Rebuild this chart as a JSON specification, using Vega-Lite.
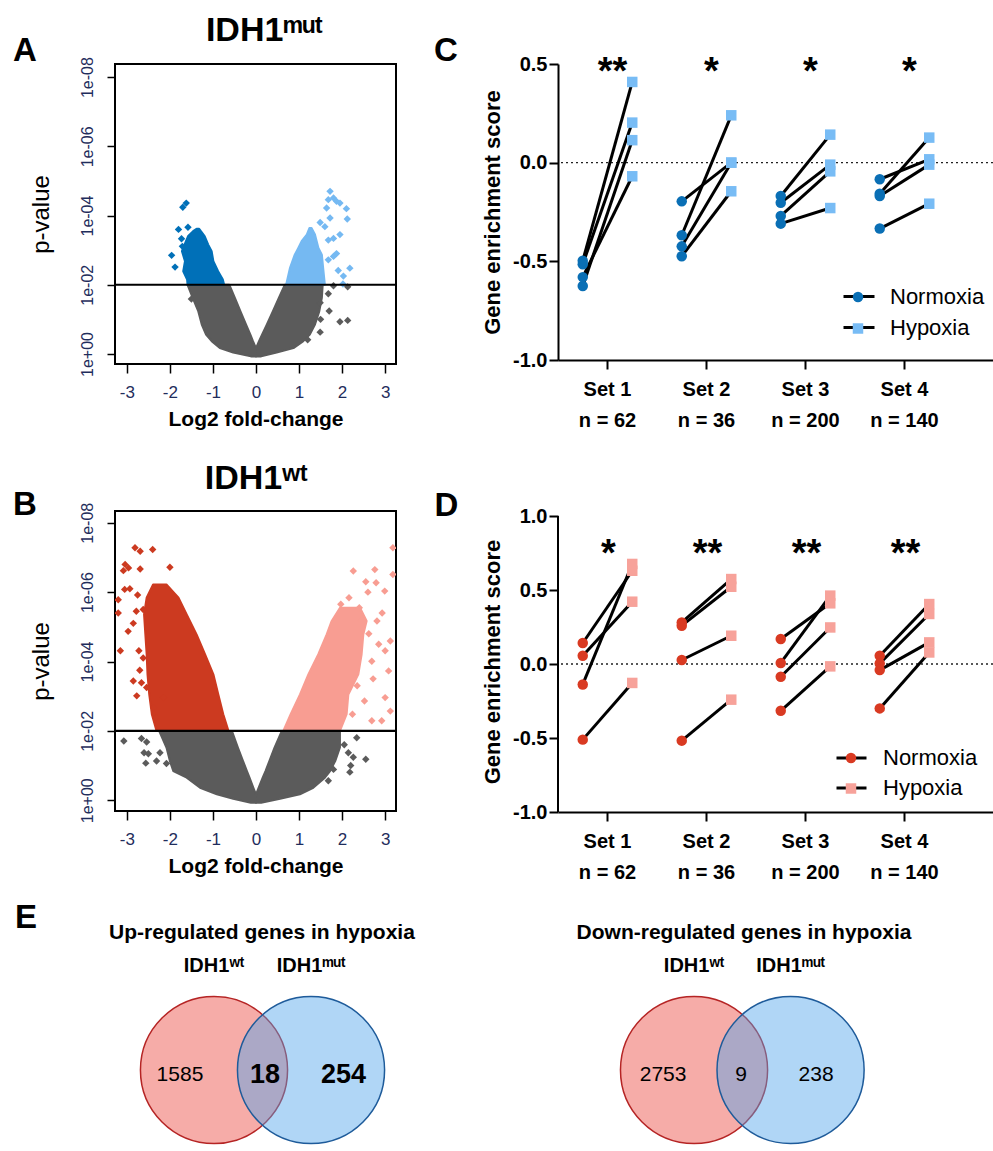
{
"$schema": "https://vega.github.io/schema/vega-lite/v6.json",
"background": "white",
"padding": {"left": 12, "top": 12, "right": 0, "bottom": 0},
"config": {"font": "Liberation Sans", "view": {"stroke": null}, "axis": {"grid": false}, "text": {"font": "Liberation Sans", "color": "black"}},
"datasets": {
"volcano_area": [
{"panel":"A","group":"ns","side":"L","nlp":-0.07,"lo":-0.12,"hi":0},
{"panel":"A","group":"ns","side":"L","nlp":0.04,"lo":-0.53,"hi":0},
{"panel":"A","group":"ns","side":"L","nlp":0.17,"lo":-0.84,"hi":0},
{"panel":"A","group":"ns","side":"L","nlp":0.37,"lo":-1.03,"hi":-0.07},
{"panel":"A","group":"ns","side":"L","nlp":0.56,"lo":-1.16,"hi":-0.13},
{"panel":"A","group":"ns","side":"L","nlp":0.85,"lo":-1.26,"hi":-0.23},
{"panel":"A","group":"ns","side":"L","nlp":1.23,"lo":-1.34,"hi":-0.36},
{"panel":"A","group":"ns","side":"L","nlp":1.62,"lo":-1.47,"hi":-0.49},
{"panel":"A","group":"ns","side":"L","nlp":2.0,"lo":-1.59,"hi":-0.62},
{"panel":"A","group":"ns","side":"R","nlp":-0.07,"lo":0,"hi":0.12},
{"panel":"A","group":"ns","side":"R","nlp":0.04,"lo":0,"hi":0.48},
{"panel":"A","group":"ns","side":"R","nlp":0.17,"lo":0,"hi":0.87},
{"panel":"A","group":"ns","side":"R","nlp":0.37,"lo":0.07,"hi":1.10},
{"panel":"A","group":"ns","side":"R","nlp":0.56,"lo":0.14,"hi":1.25},
{"panel":"A","group":"ns","side":"R","nlp":0.85,"lo":0.25,"hi":1.37},
{"panel":"A","group":"ns","side":"R","nlp":1.23,"lo":0.39,"hi":1.47},
{"panel":"A","group":"ns","side":"R","nlp":1.62,"lo":0.53,"hi":1.53},
{"panel":"A","group":"ns","side":"R","nlp":2.0,"lo":0.67,"hi":1.55},
{"panel":"A","group":"down","side":"L","nlp":2.0,"lo":-1.59,"hi":-0.74},
{"panel":"A","group":"down","side":"L","nlp":2.15,"lo":-1.60,"hi":-0.77},
{"panel":"A","group":"down","side":"L","nlp":2.39,"lo":-1.69,"hi":-0.88},
{"panel":"A","group":"down","side":"L","nlp":2.68,"lo":-1.65,"hi":-0.99},
{"panel":"A","group":"down","side":"L","nlp":2.97,"lo":-1.72,"hi":-1.03},
{"panel":"A","group":"down","side":"L","nlp":3.16,"lo":-1.66,"hi":-1.11},
{"panel":"A","group":"down","side":"L","nlp":3.40,"lo":-1.58,"hi":-1.19},
{"panel":"A","group":"down","side":"L","nlp":3.55,"lo":-1.46,"hi":-1.28},
{"panel":"A","group":"down","side":"L","nlp":3.62,"lo":-1.38,"hi":-1.32},
{"panel":"A","group":"up","side":"R","nlp":2.0,"lo":0.70,"hi":1.60},
{"panel":"A","group":"up","side":"R","nlp":2.49,"lo":0.79,"hi":1.56},
{"panel":"A","group":"up","side":"R","nlp":2.87,"lo":0.90,"hi":1.53},
{"panel":"A","group":"up","side":"R","nlp":3.06,"lo":0.98,"hi":1.45},
{"panel":"A","group":"up","side":"R","nlp":3.26,"lo":1.06,"hi":1.41},
{"panel":"A","group":"up","side":"R","nlp":3.45,"lo":1.18,"hi":1.37},
{"panel":"A","group":"up","side":"R","nlp":3.64,"lo":1.24,"hi":1.29},
{"panel":"B","group":"ns","side":"L","nlp":-0.07,"lo":-0.12,"hi":0},
{"panel":"B","group":"ns","side":"L","nlp":0.04,"lo":-0.53,"hi":0},
{"panel":"B","group":"ns","side":"L","nlp":0.17,"lo":-0.91,"hi":0},
{"panel":"B","group":"ns","side":"L","nlp":0.36,"lo":-1.30,"hi":-0.06},
{"panel":"B","group":"ns","side":"L","nlp":0.65,"lo":-1.61,"hi":-0.15},
{"panel":"B","group":"ns","side":"L","nlp":0.84,"lo":-1.92,"hi":-0.21},
{"panel":"B","group":"ns","side":"L","nlp":1.13,"lo":-2.00,"hi":-0.30},
{"panel":"B","group":"ns","side":"L","nlp":1.52,"lo":-2.08,"hi":-0.42},
{"panel":"B","group":"ns","side":"L","nlp":2.0,"lo":-2.25,"hi":-0.56},
{"panel":"B","group":"ns","side":"R","nlp":-0.07,"lo":0,"hi":0.12},
{"panel":"B","group":"ns","side":"R","nlp":0.04,"lo":0,"hi":0.56},
{"panel":"B","group":"ns","side":"R","nlp":0.17,"lo":0,"hi":1.02},
{"panel":"B","group":"ns","side":"R","nlp":0.36,"lo":0.06,"hi":1.33},
{"panel":"B","group":"ns","side":"R","nlp":0.65,"lo":0.155,"hi":1.60},
{"panel":"B","group":"ns","side":"R","nlp":0.84,"lo":0.22,"hi":1.72},
{"panel":"B","group":"ns","side":"R","nlp":1.13,"lo":0.31,"hi":1.84},
{"panel":"B","group":"ns","side":"R","nlp":1.52,"lo":0.43,"hi":1.95},
{"panel":"B","group":"ns","side":"R","nlp":2.0,"lo":0.60,"hi":1.95},
{"panel":"B","group":"down","side":"L","nlp":2.0,"lo":-2.31,"hi":-0.64},
{"panel":"B","group":"down","side":"L","nlp":2.48,"lo":-2.42,"hi":-0.76},
{"panel":"B","group":"down","side":"L","nlp":3.05,"lo":-2.48,"hi":-0.875},
{"panel":"B","group":"down","side":"L","nlp":3.63,"lo":-2.52,"hi":-0.99},
{"panel":"B","group":"down","side":"L","nlp":4.21,"lo":-2.54,"hi":-1.185},
{"panel":"B","group":"down","side":"L","nlp":4.78,"lo":-2.57,"hi":-1.38},
{"panel":"B","group":"down","side":"L","nlp":5.36,"lo":-2.60,"hi":-1.61},
{"panel":"B","group":"down","side":"L","nlp":5.84,"lo":-2.54,"hi":-1.80},
{"panel":"B","group":"down","side":"L","nlp":6.22,"lo":-2.39,"hi":-2.08},
{"panel":"B","group":"up","side":"R","nlp":2.0,"lo":0.635,"hi":1.95},
{"panel":"B","group":"up","side":"R","nlp":2.48,"lo":0.805,"hi":2.106},
{"panel":"B","group":"up","side":"R","nlp":3.05,"lo":1.022,"hi":2.145},
{"panel":"B","group":"up","side":"R","nlp":3.63,"lo":1.216,"hi":2.377},
{"panel":"B","group":"up","side":"R","nlp":4.21,"lo":1.448,"hi":2.454},
{"panel":"B","group":"up","side":"R","nlp":4.78,"lo":1.642,"hi":2.493},
{"panel":"B","group":"up","side":"R","nlp":5.17,"lo":1.758,"hi":2.57},
{"panel":"B","group":"up","side":"R","nlp":5.55,"lo":1.951,"hi":2.416}
],
"volcano_pts": [
{"panel":"A","group":"down","lfc":-1.70,"nlp":4.24},
{"panel":"A","group":"down","lfc":-1.62,"nlp":4.36},
{"panel":"A","group":"down","lfc":-1.80,"nlp":3.60},
{"panel":"A","group":"down","lfc":-1.58,"nlp":3.66},
{"panel":"A","group":"down","lfc":-1.96,"nlp":2.85},
{"panel":"A","group":"down","lfc":-1.88,"nlp":2.51},
{"panel":"A","group":"down","lfc":-1.73,"nlp":3.33},
{"panel":"A","group":"down","lfc":-1.71,"nlp":3.11},
{"panel":"A","group":"up","lfc":1.72,"nlp":4.70},
{"panel":"A","group":"up","lfc":1.68,"nlp":4.46},
{"panel":"A","group":"up","lfc":1.80,"nlp":4.51},
{"panel":"A","group":"up","lfc":1.87,"nlp":4.41},
{"panel":"A","group":"up","lfc":1.95,"nlp":4.36},
{"panel":"A","group":"up","lfc":1.64,"nlp":4.22},
{"panel":"A","group":"up","lfc":2.10,"nlp":4.20},
{"panel":"A","group":"up","lfc":1.72,"nlp":3.93},
{"panel":"A","group":"up","lfc":2.12,"nlp":3.90},
{"panel":"A","group":"up","lfc":1.49,"nlp":3.80},
{"panel":"A","group":"up","lfc":1.60,"nlp":3.68},
{"panel":"A","group":"up","lfc":1.95,"nlp":3.45},
{"panel":"A","group":"up","lfc":1.80,"nlp":3.34},
{"panel":"A","group":"up","lfc":1.68,"nlp":3.29},
{"panel":"A","group":"up","lfc":1.87,"nlp":2.90},
{"panel":"A","group":"up","lfc":1.80,"nlp":2.82},
{"panel":"A","group":"up","lfc":1.68,"nlp":2.72},
{"panel":"A","group":"up","lfc":2.18,"nlp":2.48},
{"panel":"A","group":"up","lfc":1.91,"nlp":2.41},
{"panel":"A","group":"up","lfc":2.03,"nlp":2.25},
{"panel":"A","group":"up","lfc":2.02,"nlp":2.02},
{"panel":"A","group":"ns","lfc":-1.50,"nlp":1.59},
{"panel":"A","group":"ns","lfc":1.68,"nlp":1.74},
{"panel":"A","group":"ns","lfc":1.80,"nlp":1.97},
{"panel":"A","group":"ns","lfc":2.13,"nlp":1.94},
{"panel":"A","group":"ns","lfc":1.49,"nlp":1.48},
{"panel":"A","group":"ns","lfc":1.70,"nlp":1.24},
{"panel":"A","group":"ns","lfc":1.50,"nlp":1.00},
{"panel":"A","group":"ns","lfc":1.95,"nlp":0.93},
{"panel":"A","group":"ns","lfc":2.13,"nlp":0.97},
{"panel":"A","group":"ns","lfc":1.49,"nlp":0.63},
{"panel":"A","group":"ns","lfc":1.20,"nlp":0.41},
{"panel":"B","group":"down","lfc":-2.81,"nlp":7.28},
{"panel":"B","group":"down","lfc":-2.69,"nlp":7.18},
{"panel":"B","group":"down","lfc":-2.40,"nlp":7.23},
{"panel":"B","group":"down","lfc":-2.00,"nlp":6.72},
{"panel":"B","group":"down","lfc":-3.04,"nlp":6.80},
{"panel":"B","group":"down","lfc":-2.96,"nlp":6.70},
{"panel":"B","group":"down","lfc":-3.08,"nlp":6.62},
{"panel":"B","group":"down","lfc":-2.69,"nlp":6.67},
{"panel":"B","group":"down","lfc":-3.20,"nlp":5.78},
{"panel":"B","group":"down","lfc":-3.20,"nlp":5.40},
{"panel":"B","group":"down","lfc":-2.93,"nlp":6.10},
{"panel":"B","group":"down","lfc":-3.05,"nlp":6.08},
{"panel":"B","group":"down","lfc":-2.75,"nlp":5.92},
{"panel":"B","group":"down","lfc":-2.78,"nlp":5.45},
{"panel":"B","group":"down","lfc":-2.62,"nlp":5.50},
{"panel":"B","group":"down","lfc":-2.97,"nlp":4.87},
{"panel":"B","group":"down","lfc":-3.15,"nlp":4.31},
{"panel":"B","group":"down","lfc":-2.72,"nlp":4.31},
{"panel":"B","group":"down","lfc":-2.62,"nlp":4.10},
{"panel":"B","group":"down","lfc":-2.85,"nlp":3.44},
{"panel":"B","group":"down","lfc":-2.66,"nlp":3.39},
{"panel":"B","group":"down","lfc":-2.54,"nlp":3.25},
{"panel":"B","group":"down","lfc":-2.77,"nlp":3.01},
{"panel":"B","group":"down","lfc":-2.38,"nlp":2.67},
{"panel":"B","group":"down","lfc":-2.32,"nlp":2.38},
{"panel":"B","group":"down","lfc":-2.15,"nlp":2.96},
{"panel":"B","group":"down","lfc":-2.85,"nlp":5.10},
{"panel":"B","group":"down","lfc":-2.70,"nlp":3.75},
{"panel":"B","group":"up","lfc":2.26,"nlp":6.61},
{"panel":"B","group":"up","lfc":2.76,"nlp":6.65},
{"panel":"B","group":"up","lfc":2.79,"nlp":6.27},
{"panel":"B","group":"up","lfc":2.99,"nlp":6.03},
{"panel":"B","group":"up","lfc":3.18,"nlp":7.28},
{"panel":"B","group":"up","lfc":3.18,"nlp":6.51},
{"panel":"B","group":"up","lfc":1.97,"nlp":5.65},
{"panel":"B","group":"up","lfc":2.16,"nlp":5.84},
{"panel":"B","group":"up","lfc":2.40,"nlp":5.55},
{"panel":"B","group":"up","lfc":2.93,"nlp":5.40},
{"panel":"B","group":"up","lfc":2.81,"nlp":5.17},
{"panel":"B","group":"up","lfc":3.00,"nlp":4.31},
{"panel":"B","group":"up","lfc":3.12,"nlp":4.59},
{"panel":"B","group":"up","lfc":2.69,"nlp":4.01},
{"panel":"B","group":"up","lfc":3.08,"nlp":3.73},
{"panel":"B","group":"up","lfc":2.52,"nlp":2.86},
{"panel":"B","group":"up","lfc":3.00,"nlp":2.96},
{"panel":"B","group":"up","lfc":3.12,"nlp":2.57},
{"panel":"B","group":"up","lfc":2.69,"nlp":2.29},
{"panel":"B","group":"up","lfc":2.92,"nlp":2.29},
{"panel":"B","group":"up","lfc":2.24,"nlp":2.48},
{"panel":"B","group":"up","lfc":2.62,"nlp":4.80},
{"panel":"B","group":"up","lfc":2.85,"nlp":4.50},
{"panel":"B","group":"up","lfc":2.35,"nlp":3.30},
{"panel":"B","group":"up","lfc":2.72,"nlp":3.50},
{"panel":"B","group":"up","lfc":2.55,"nlp":6.30},
{"panel":"B","group":"up","lfc":2.45,"nlp":5.20},
{"panel":"B","group":"up","lfc":2.60,"nlp":6.00},
{"panel":"B","group":"ns","lfc":-3.07,"nlp":1.71},
{"panel":"B","group":"ns","lfc":-2.66,"nlp":1.78},
{"panel":"B","group":"ns","lfc":-2.54,"nlp":1.68},
{"panel":"B","group":"ns","lfc":-2.60,"nlp":1.37},
{"panel":"B","group":"ns","lfc":-2.50,"nlp":1.34},
{"panel":"B","group":"ns","lfc":-2.23,"nlp":1.37},
{"panel":"B","group":"ns","lfc":-2.56,"nlp":1.07},
{"panel":"B","group":"ns","lfc":-2.31,"nlp":1.13},
{"panel":"B","group":"ns","lfc":-2.08,"nlp":1.06},
{"panel":"B","group":"ns","lfc":2.34,"nlp":1.80},
{"panel":"B","group":"ns","lfc":2.145,"nlp":1.37},
{"panel":"B","group":"ns","lfc":2.26,"nlp":1.24},
{"panel":"B","group":"ns","lfc":2.55,"nlp":1.18},
{"panel":"B","group":"ns","lfc":2.18,"nlp":0.81},
{"panel":"B","group":"ns","lfc":1.80,"nlp":0.89},
{"panel":"B","group":"ns","lfc":1.68,"nlp":0.56},
{"panel":"B","group":"ns","lfc":2.05,"nlp":1.60},
{"panel":"B","group":"ns","lfc":2.20,"nlp":1.00}
],
"enrich": [
{"panel":"C","set":"Set 1, n = 62","pair":"C1","condition":"Normoxia","score":-0.497},
{"panel":"C","set":"Set 1, n = 62","pair":"C1","condition":"Hypoxia","score":0.409},
{"panel":"C","set":"Set 1, n = 62","pair":"C2","condition":"Normoxia","score":-0.515},
{"panel":"C","set":"Set 1, n = 62","pair":"C2","condition":"Hypoxia","score":0.203},
{"panel":"C","set":"Set 1, n = 62","pair":"C3","condition":"Normoxia","score":-0.625},
{"panel":"C","set":"Set 1, n = 62","pair":"C3","condition":"Hypoxia","score":0.114},
{"panel":"C","set":"Set 1, n = 62","pair":"C4","condition":"Normoxia","score":-0.580},
{"panel":"C","set":"Set 1, n = 62","pair":"C4","condition":"Hypoxia","score":-0.069},
{"panel":"C","set":"Set 2, n = 36","pair":"C5","condition":"Normoxia","score":-0.196},
{"panel":"C","set":"Set 2, n = 36","pair":"C5","condition":"Hypoxia","score":0.0},
{"panel":"C","set":"Set 2, n = 36","pair":"C6","condition":"Normoxia","score":-0.368},
{"panel":"C","set":"Set 2, n = 36","pair":"C6","condition":"Hypoxia","score":0.240},
{"panel":"C","set":"Set 2, n = 36","pair":"C7","condition":"Normoxia","score":-0.424},
{"panel":"C","set":"Set 2, n = 36","pair":"C7","condition":"Hypoxia","score":0.0},
{"panel":"C","set":"Set 2, n = 36","pair":"C8","condition":"Normoxia","score":-0.474},
{"panel":"C","set":"Set 2, n = 36","pair":"C8","condition":"Hypoxia","score":-0.145},
{"panel":"C","set":"Set 3, n = 200","pair":"C9","condition":"Normoxia","score":-0.169},
{"panel":"C","set":"Set 3, n = 200","pair":"C9","condition":"Hypoxia","score":0.142},
{"panel":"C","set":"Set 3, n = 200","pair":"C10","condition":"Normoxia","score":-0.203},
{"panel":"C","set":"Set 3, n = 200","pair":"C10","condition":"Hypoxia","score":-0.010},
{"panel":"C","set":"Set 3, n = 200","pair":"C11","condition":"Normoxia","score":-0.270},
{"panel":"C","set":"Set 3, n = 200","pair":"C11","condition":"Hypoxia","score":-0.044},
{"panel":"C","set":"Set 3, n = 200","pair":"C12","condition":"Normoxia","score":-0.309},
{"panel":"C","set":"Set 3, n = 200","pair":"C12","condition":"Hypoxia","score":-0.230},
{"panel":"C","set":"Set 4, n = 140","pair":"C13","condition":"Normoxia","score":-0.084},
{"panel":"C","set":"Set 4, n = 140","pair":"C13","condition":"Hypoxia","score":0.017},
{"panel":"C","set":"Set 4, n = 140","pair":"C14","condition":"Normoxia","score":-0.157},
{"panel":"C","set":"Set 4, n = 140","pair":"C14","condition":"Hypoxia","score":0.127},
{"panel":"C","set":"Set 4, n = 140","pair":"C15","condition":"Normoxia","score":-0.169},
{"panel":"C","set":"Set 4, n = 140","pair":"C15","condition":"Hypoxia","score":-0.010},
{"panel":"C","set":"Set 4, n = 140","pair":"C16","condition":"Normoxia","score":-0.334},
{"panel":"C","set":"Set 4, n = 140","pair":"C16","condition":"Hypoxia","score":-0.208},
{"panel":"D","set":"Set 1, n = 62","pair":"D1","condition":"Normoxia","score":0.142},
{"panel":"D","set":"Set 1, n = 62","pair":"D1","condition":"Hypoxia","score":0.630},
{"panel":"D","set":"Set 1, n = 62","pair":"D2","condition":"Normoxia","score":0.056},
{"panel":"D","set":"Set 1, n = 62","pair":"D2","condition":"Hypoxia","score":0.421},
{"panel":"D","set":"Set 1, n = 62","pair":"D3","condition":"Normoxia","score":-0.138},
{"panel":"D","set":"Set 1, n = 62","pair":"D3","condition":"Hypoxia","score":0.676},
{"panel":"D","set":"Set 1, n = 62","pair":"D4","condition":"Normoxia","score":-0.511},
{"panel":"D","set":"Set 1, n = 62","pair":"D4","condition":"Hypoxia","score":-0.128},
{"panel":"D","set":"Set 2, n = 36","pair":"D5","condition":"Normoxia","score":0.281},
{"panel":"D","set":"Set 2, n = 36","pair":"D5","condition":"Hypoxia","score":0.574},
{"panel":"D","set":"Set 2, n = 36","pair":"D6","condition":"Normoxia","score":0.259},
{"panel":"D","set":"Set 2, n = 36","pair":"D6","condition":"Hypoxia","score":0.522},
{"panel":"D","set":"Set 2, n = 36","pair":"D7","condition":"Normoxia","score":0.027},
{"panel":"D","set":"Set 2, n = 36","pair":"D7","condition":"Hypoxia","score":0.191},
{"panel":"D","set":"Set 2, n = 36","pair":"D8","condition":"Normoxia","score":-0.518},
{"panel":"D","set":"Set 2, n = 36","pair":"D8","condition":"Hypoxia","score":-0.241},
{"panel":"D","set":"Set 3, n = 200","pair":"D9","condition":"Normoxia","score":0.169},
{"panel":"D","set":"Set 3, n = 200","pair":"D9","condition":"Hypoxia","score":0.410},
{"panel":"D","set":"Set 3, n = 200","pair":"D10","condition":"Normoxia","score":0.007},
{"panel":"D","set":"Set 3, n = 200","pair":"D10","condition":"Hypoxia","score":0.462},
{"panel":"D","set":"Set 3, n = 200","pair":"D11","condition":"Normoxia","score":-0.086},
{"panel":"D","set":"Set 3, n = 200","pair":"D11","condition":"Hypoxia","score":0.247},
{"panel":"D","set":"Set 3, n = 200","pair":"D12","condition":"Normoxia","score":-0.316},
{"panel":"D","set":"Set 3, n = 200","pair":"D12","condition":"Hypoxia","score":-0.016},
{"panel":"D","set":"Set 4, n = 140","pair":"D13","condition":"Normoxia","score":0.056},
{"panel":"D","set":"Set 4, n = 140","pair":"D13","condition":"Hypoxia","score":0.405},
{"panel":"D","set":"Set 4, n = 140","pair":"D14","condition":"Normoxia","score":0.004},
{"panel":"D","set":"Set 4, n = 140","pair":"D14","condition":"Hypoxia","score":0.338},
{"panel":"D","set":"Set 4, n = 140","pair":"D15","condition":"Normoxia","score":-0.041},
{"panel":"D","set":"Set 4, n = 140","pair":"D15","condition":"Hypoxia","score":0.146},
{"panel":"D","set":"Set 4, n = 140","pair":"D16","condition":"Normoxia","score":-0.300},
{"panel":"D","set":"Set 4, n = 140","pair":"D16","condition":"Hypoxia","score":0.078}
],
"sig": [
{"panel":"C","set":"Set 1, n = 62","sig":"**"},
{"panel":"C","set":"Set 2, n = 36","sig":"*"},
{"panel":"C","set":"Set 3, n = 200","sig":"*"},
{"panel":"C","set":"Set 4, n = 140","sig":"*"},
{"panel":"D","set":"Set 1, n = 62","sig":"*"},
{"panel":"D","set":"Set 2, n = 36","sig":"**"},
{"panel":"D","set":"Set 3, n = 200","sig":"**"},
{"panel":"D","set":"Set 4, n = 140","sig":"**"}
],
"venn_sets": [
{"venn":"up","set":"IDH1ʷᵗ","cx":0},
{"venn":"up","set":"IDH1ᵐᵘᵗ","cx":1.169},
{"venn":"down","set":"IDH1ʷᵗ","cx":0},
{"venn":"down","set":"IDH1ᵐᵘᵗ","cx":1.163}
],
"venn_counts": [
{"venn":"up","region":"IDH1wt only","count":1585,"cx":-0.41},
{"venn":"up","region":"both","count":18,"cx":0.614},
{"venn":"up","region":"IDH1mut only","count":254,"cx":1.56},
{"venn":"down","region":"IDH1wt only","count":2753,"cx":-0.373},
{"venn":"down","region":"both","count":9,"cx":0.566},
{"venn":"down","region":"IDH1mut only","count":238,"cx":1.47}
]
},
"columns": 2,
"spacing": {"row": 147, "column": 162},
"bounds": "flush",
"align": "each",
"resolve": {
 "scale": {"color": "independent", "fill": "independent", "stroke": "independent", "shape": "independent", "strokeDash": "independent", "xOffset": "independent"},
 "legend": {"color": "independent", "fill": "independent", "stroke": "independent", "shape": "independent", "strokeDash": "independent"}
},
"concat": [
{
"width": 281, "height": 300,
"view": {"stroke": "black", "strokeWidth": 2},
"layer": [
{"data": {"name": "volcano_area"}, "transform": [{"filter": "datum.panel == 'A'"}],
 "mark": {"type": "area", "orient": "horizontal", "clip": true, "strokeWidth": 2, "strokeJoin": "round", "opacity": 1},
 "encoding": {
  "y": {"field": "nlp", "type": "quantitative", "scale": {"domain": [-0.29, 8.38], "nice": false, "zero": false},
        "axis": {"title": "p-value", "titleFontSize": 24, "titleFontWeight": "normal", "titleColor": "black", "titlePadding": 26, "values": [0, 2, 4, 6, 8], "labelExpr": "datum.value == 0 ? '1e+00' : '1e-0' + datum.value", "labelAngle": 270, "labelAlign": "center", "labelBaseline": "bottom", "labelFontSize": 16, "labelColor": "#1f2d5c", "labelPadding": 12, "labelFlush": false, "labelOverlap": false, "tickSize": 8, "tickWidth": 1.5, "tickColor": "black", "domain": false}},
  "x": {"field": "lo", "type": "quantitative", "stack": null, "scale": {"domain": [-3.275, 3.252], "nice": false, "zero": false},
        "axis": {"title": "Log2 fold-change", "titleFontSize": 21, "titleFontWeight": "bold", "titleColor": "black", "titlePadding": 8, "values": [-3, -2, -1, 0, 1, 2, 3], "labelExpr": "replace(format(datum.value, 'd'), '\u2212', '-')", "labelFontSize": 17, "labelColor": "#1f2d5c", "labelPadding": 11, "labelFlush": false, "labelOverlap": false, "tickSize": 9, "tickWidth": 1.5, "tickColor": "black", "domain": false}},
  "x2": {"field": "hi"},
  "detail": {"field": "side", "type": "nominal"},
  "color": {"field": "group", "type": "nominal", "scale": {"domain": ["ns", "down", "up"], "range": ["#5b5b5b", "#0070b8", "#75b9f2"]}, "legend": null},
  "stroke": {"field": "group", "type": "nominal", "scale": {"domain": ["ns", "down", "up"], "range": ["#5b5b5b", "#0070b8", "#75b9f2"]}, "legend": null}
 }},
{"data": {"name": "volcano_pts"}, "transform": [{"filter": "datum.panel == 'A'"}],
 "mark": {"type": "point", "shape": "diamond", "filled": true, "opacity": 1, "size": 55, "clip": true},
 "encoding": {"x": {"field": "lfc", "type": "quantitative"}, "y": {"field": "nlp", "type": "quantitative"}, "color": {"field": "group", "type": "nominal", "legend": null}}},
{"data": {"values": [{}]}, "mark": {"type": "rule", "color": "black", "strokeWidth": 2.2}, "encoding": {"y": {"datum": 2, "type": "quantitative"}}},
{"data": {"values": [{}]}, "mark": {"type": "text", "text": "A", "fontSize": 33, "fontWeight": "bold", "align": "center", "baseline": "alphabetic"}, "encoding": {"x": {"datum": -5.366, "type": "quantitative"}, "y": {"datum": 8.48, "type": "quantitative"}}},
{"data": {"values": [{}]}, "mark": {"type": "text", "text": "IDH1ᵐᵘᵗ", "fontSize": 34, "fontWeight": "bold", "align": "center", "baseline": "alphabetic"}, "encoding": {"x": {"datum": 0.19, "type": "quantitative"}, "y": {"datum": 9.056, "type": "quantitative"}}}
]
},
{
"width": 435, "height": 296,
"layer": [
{"layer": [
 {"data": {"values": [{}]}, "mark": {"type": "rule", "strokeDash": [2, 3], "strokeWidth": 1.3, "color": "#222222"}, "encoding": {"y": {"datum": 0, "type": "quantitative"}}},
 {"data": {"name": "enrich"}, "transform": [{"filter": "datum.panel == 'C'"}],
  "mark": {"type": "line", "color": "black", "strokeWidth": 3},
  "encoding": {
   "x": {"field": "set", "type": "nominal", "scale": {"type": "band", "paddingInner": 0, "paddingOuter": 0.197, "align": 0},
         "axis": {"title": null, "labelExpr": "split(datum.value, ', ')", "labelFontSize": 20, "labelFontWeight": "bold", "labelColor": "black", "labelLineHeight": 31.6, "labelPadding": 10, "labelAngle": 0, "labelBaseline": "top", "tickSize": 9, "tickWidth": 2, "tickColor": "black", "domainColor": "black", "domainWidth": 2, "bandPosition": 0.5}},
   "xOffset": {"field": "condition", "type": "nominal", "scale": {"type": "point", "domain": ["Normoxia", "Hypoxia"], "padding": 0.5}},
   "y": {"field": "score", "type": "quantitative", "scale": {"domain": [-1, 0.5], "nice": false, "zero": false},
         "axis": {"title": "Gene enrichment score", "titleFontSize": 22, "titleFontWeight": "bold", "titleColor": "black", "titlePadding": 8, "values": [-1, -0.5, 0, 0.5], "labelExpr": "replace(format(datum.value, '.1f'), '\u2212', '-')", "labelFontSize": 20, "labelFontWeight": "bold", "labelColor": "black", "labelPadding": 2, "labelFlush": false, "tickSize": 9, "tickWidth": 2, "tickColor": "black", "domainColor": "black", "domainWidth": 2}},
   "detail": {"field": "pair", "type": "nominal"}
  }},
 {"data": {"name": "enrich"}, "transform": [{"filter": "datum.panel == 'C'"}],
  "mark": {"type": "point", "opacity": 0, "color": "black"},
  "encoding": {
   "x": {"field": "set", "type": "nominal"},
   "xOffset": {"field": "condition", "type": "nominal"},
   "y": {"field": "score", "type": "quantitative"},
   "strokeDash": {"field": "condition", "type": "nominal", "sort": "descending", "scale": {"range": [[1, 0], [1, 0]]},
                  "legend": {"title": null, "orient": "none", "legendX": 284, "legendY": 215.5, "padding": 0, "symbolType": "stroke", "symbolSize": 961, "symbolStrokeWidth": 3, "symbolStrokeColor": "black", "symbolOpacity": 1, "labelFontSize": 22, "labelColor": "black", "labelFont": "Liberation Sans", "labelOffset": 14, "rowPadding": 3, "zindex": 1}}
  }},
 {"data": {"name": "enrich"}, "transform": [{"filter": "datum.panel == 'C'"}],
  "mark": {"type": "point", "filled": true, "opacity": 1, "size": 110},
  "encoding": {
   "x": {"field": "set", "type": "nominal"},
   "xOffset": {"field": "condition", "type": "nominal"},
   "y": {"field": "score", "type": "quantitative"},
   "color": {"field": "condition", "type": "nominal", "scale": {"domain": ["Normoxia", "Hypoxia"], "range": ["#0a6fb5", "#78bcf5"]},
             "legend": {"title": null, "orient": "none", "legendX": 294.5, "legendY": 227.5, "padding": 0, "labelFontSize": 9, "labelExpr": "''", "rowPadding": 20.5, "symbolSize": 110, "symbolStrokeWidth": 0, "zindex": 2}},
   "shape": {"field": "condition", "type": "nominal", "scale": {"domain": ["Normoxia", "Hypoxia"], "range": ["circle", "square"]},
             "legend": {"title": null, "orient": "none", "legendX": 294.5, "legendY": 227.5, "padding": 0, "labelFontSize": 9, "labelExpr": "''", "rowPadding": 20.5, "symbolSize": 110, "symbolStrokeWidth": 0, "zindex": 2}}
  }},
 {"data": {"name": "sig"}, "transform": [{"filter": "datum.panel == 'C'"}],
  "mark": {"type": "text", "fontSize": 38, "fontWeight": "bold", "baseline": "alphabetic", "align": "center", "dx": 5},
  "encoding": {"x": {"field": "set", "type": "nominal"}, "y": {"datum": 0.40, "type": "quantitative"}, "text": {"field": "sig"}}}
]},
{"data": {"values": [{}]}, "mark": {"type": "text", "text": "C", "fontSize": 33, "fontWeight": "bold", "align": "center", "baseline": "alphabetic"},
 "encoding": {"x": {"datum": -0.631, "type": "quantitative", "scale": {"domain": [0.5, 4.894], "nice": false, "zero": false}, "axis": null}, "y": {"datum": 0.517, "type": "quantitative"}}}
],
"resolve": {"scale": {"x": "independent"}}
},
{
"width": 281, "height": 300,
"view": {"stroke": "black", "strokeWidth": 2},
"layer": [
{"data": {"name": "volcano_area"}, "transform": [{"filter": "datum.panel == 'B'"}],
 "mark": {"type": "area", "orient": "horizontal", "clip": true, "strokeWidth": 2, "strokeJoin": "round", "opacity": 1},
 "encoding": {
  "y": {"field": "nlp", "type": "quantitative", "scale": {"domain": [-0.31, 8.34], "nice": false, "zero": false},
        "axis": {"title": "p-value", "titleFontSize": 24, "titleFontWeight": "normal", "titleColor": "black", "titlePadding": 26, "values": [0, 2, 4, 6, 8], "labelExpr": "datum.value == 0 ? '1e+00' : '1e-0' + datum.value", "labelAngle": 270, "labelAlign": "center", "labelBaseline": "bottom", "labelFontSize": 16, "labelColor": "#1f2d5c", "labelPadding": 12, "labelFlush": false, "labelOverlap": false, "tickSize": 8, "tickWidth": 1.5, "tickColor": "black", "domain": false}},
  "x": {"field": "lo", "type": "quantitative", "stack": null, "scale": {"domain": [-3.275, 3.252], "nice": false, "zero": false},
        "axis": {"title": "Log2 fold-change", "titleFontSize": 21, "titleFontWeight": "bold", "titleColor": "black", "titlePadding": 8, "values": [-3, -2, -1, 0, 1, 2, 3], "labelExpr": "replace(format(datum.value, 'd'), '\u2212', '-')", "labelFontSize": 17, "labelColor": "#1f2d5c", "labelPadding": 11, "labelFlush": false, "labelOverlap": false, "tickSize": 9, "tickWidth": 1.5, "tickColor": "black", "domain": false}},
  "x2": {"field": "hi"},
  "detail": {"field": "side", "type": "nominal"},
  "color": {"field": "group", "type": "nominal", "scale": {"domain": ["ns", "down", "up"], "range": ["#5b5b5b", "#cc3a20", "#f89d92"]}, "legend": null},
  "stroke": {"field": "group", "type": "nominal", "scale": {"domain": ["ns", "down", "up"], "range": ["#5b5b5b", "#cc3a20", "#f89d92"]}, "legend": null}
 }},
{"data": {"name": "volcano_pts"}, "transform": [{"filter": "datum.panel == 'B'"}],
 "mark": {"type": "point", "shape": "diamond", "filled": true, "opacity": 1, "size": 55, "clip": true},
 "encoding": {"x": {"field": "lfc", "type": "quantitative"}, "y": {"field": "nlp", "type": "quantitative"}, "color": {"field": "group", "type": "nominal", "legend": null}}},
{"data": {"values": [{}]}, "mark": {"type": "rule", "color": "black", "strokeWidth": 2.2}, "encoding": {"y": {"datum": 2, "type": "quantitative"}}},
{"data": {"values": [{}]}, "mark": {"type": "text", "text": "B", "fontSize": 33, "fontWeight": "bold", "align": "center", "baseline": "alphabetic"}, "encoding": {"x": {"datum": -5.366, "type": "quantitative"}, "y": {"datum": 8.22, "type": "quantitative"}}},
{"data": {"values": [{}]}, "mark": {"type": "text", "text": "IDH1ʷᵗ", "fontSize": 34, "fontWeight": "bold", "align": "center", "baseline": "alphabetic"}, "encoding": {"x": {"datum": 0.0, "type": "quantitative"}, "y": {"datum": 8.974, "type": "quantitative"}}}
]
},
{
"width": 435, "height": 301,
"layer": [
{"layer": [
 {"data": {"values": [{}]}, "mark": {"type": "rule", "strokeDash": [2, 3], "strokeWidth": 1.3, "color": "#222222"}, "encoding": {"y": {"datum": 0, "type": "quantitative"}}},
 {"data": {"name": "enrich"}, "transform": [{"filter": "datum.panel == 'D'"}],
  "mark": {"type": "line", "color": "black", "strokeWidth": 3},
  "encoding": {
   "x": {"field": "set", "type": "nominal", "scale": {"type": "band", "paddingInner": 0, "paddingOuter": 0.197, "align": 0},
         "axis": {"title": null, "labelExpr": "split(datum.value, ', ')", "labelFontSize": 20, "labelFontWeight": "bold", "labelColor": "black", "labelLineHeight": 31.6, "labelPadding": 10, "labelAngle": 0, "labelBaseline": "top", "tickSize": 9, "tickWidth": 2, "tickColor": "black", "domainColor": "black", "domainWidth": 2, "bandPosition": 0.5}},
   "xOffset": {"field": "condition", "type": "nominal", "scale": {"type": "point", "domain": ["Normoxia", "Hypoxia"], "padding": 0.5}},
   "y": {"field": "score", "type": "quantitative", "scale": {"domain": [-1, 1.0338], "nice": false, "zero": false},
         "axis": {"title": "Gene enrichment score", "titleFontSize": 22, "titleFontWeight": "bold", "titleColor": "black", "titlePadding": 8, "values": [-1, -0.5, 0, 0.5, 1], "labelExpr": "replace(format(datum.value, '.1f'), '\u2212', '-')", "labelFontSize": 20, "labelFontWeight": "bold", "labelColor": "black", "labelPadding": 2, "labelFlush": false, "tickSize": 9, "tickWidth": 2, "tickColor": "black", "domain": false}},
   "detail": {"field": "pair", "type": "nominal"}
  }},
 {"data": {"name": "enrich"}, "transform": [{"filter": "datum.panel == 'D'"}],
  "mark": {"type": "point", "opacity": 0, "color": "black"},
  "encoding": {
   "x": {"field": "set", "type": "nominal"},
   "xOffset": {"field": "condition", "type": "nominal"},
   "y": {"field": "score", "type": "quantitative"},
   "strokeDash": {"field": "condition", "type": "nominal", "sort": "descending", "scale": {"range": [[1, 0], [1, 0]]},
                  "legend": {"title": null, "orient": "none", "legendX": 277, "legendY": 230.5, "padding": 0, "symbolType": "stroke", "symbolSize": 900, "symbolStrokeWidth": 3, "symbolStrokeColor": "black", "symbolOpacity": 1, "labelFontSize": 22, "labelColor": "black", "labelFont": "Liberation Sans", "labelOffset": 15, "rowPadding": 2, "zindex": 1}}
  }},
 {"data": {"name": "enrich"}, "transform": [{"filter": "datum.panel == 'D'"}],
  "mark": {"type": "point", "filled": true, "opacity": 1, "size": 110},
  "encoding": {
   "x": {"field": "set", "type": "nominal"},
   "xOffset": {"field": "condition", "type": "nominal"},
   "y": {"field": "score", "type": "quantitative"},
   "color": {"field": "condition", "type": "nominal", "scale": {"domain": ["Normoxia", "Hypoxia"], "range": ["#d93a22", "#f7a29a"]},
             "legend": {"title": null, "orient": "none", "legendX": 287.5, "legendY": 241.5, "padding": 0, "labelFontSize": 9, "labelExpr": "''", "rowPadding": 19.5, "symbolSize": 110, "symbolStrokeWidth": 0, "zindex": 2}},
   "shape": {"field": "condition", "type": "nominal", "scale": {"domain": ["Normoxia", "Hypoxia"], "range": ["circle", "square"]},
             "legend": {"title": null, "orient": "none", "legendX": 287.5, "legendY": 241.5, "padding": 0, "labelFontSize": 9, "labelExpr": "''", "rowPadding": 19.5, "symbolSize": 110, "symbolStrokeWidth": 0, "zindex": 2}}
  }},
 {"data": {"name": "sig"}, "transform": [{"filter": "datum.panel == 'D'"}],
  "mark": {"type": "text", "fontSize": 38, "fontWeight": "bold", "baseline": "alphabetic", "align": "center", "dx": 1},
  "encoding": {"x": {"field": "set", "type": "nominal"}, "y": {"datum": 0.662, "type": "quantitative"}, "text": {"field": "sig"}}}
]},
{"layer": [
 {"data": {"values": [{}]}, "mark": {"type": "rule", "color": "black", "strokeWidth": 2},
  "encoding": {"x": {"datum": 0.5, "type": "quantitative", "scale": {"domain": [0.5, 4.894], "nice": false, "zero": false}, "axis": null}, "y": {"datum": -1, "type": "quantitative"}, "y2": {"datum": 1}}},
 {"data": {"values": [{}]}, "mark": {"type": "text", "text": "D", "fontSize": 33, "fontWeight": "bold", "align": "center", "baseline": "alphabetic"},
  "encoding": {"x": {"datum": -0.626, "type": "quantitative"}, "y": {"datum": 1.0, "type": "quantitative"}}}
]}
],
"resolve": {"scale": {"x": "independent"}}
},
{
"width": 281, "height": 193,
"layer": [
{"data": {"name": "venn_sets"}, "transform": [{"filter": "datum.venn == 'up'"}],
 "mark": {"type": "point", "shape": "circle", "filled": true, "size": 21640, "opacity": 1, "fillOpacity": 0.45, "strokeWidth": 1.5, "strokeOpacity": 1},
 "encoding": {
  "x": {"field": "cx", "type": "quantitative", "scale": {"domain": [-1.193, 2.193], "nice": false, "zero": false}, "axis": null},
  "y": {"datum": 0, "type": "quantitative", "scale": {"domain": [-0.988, 1.337], "nice": false, "zero": false}, "axis": null},
  "fill": {"field": "set", "type": "nominal", "scale": {"domain": ["IDH1ʷᵗ", "IDH1ᵐᵘᵗ"], "range": ["#eb473e", "#4fa4eb"]}, "legend": null},
  "stroke": {"field": "set", "type": "nominal", "scale": {"domain": ["IDH1ʷᵗ", "IDH1ᵐᵘᵗ"], "range": ["#b52424", "#1e5b9a"]}, "legend": null}
 }},
{"data": {"name": "venn_sets"}, "transform": [{"filter": "datum.venn == 'up'"}],
 "mark": {"type": "text", "fontSize": 20, "fontWeight": "bold", "align": "center", "baseline": "alphabetic"},
 "encoding": {"x": {"field": "cx", "type": "quantitative"}, "y": {"datum": 1.181, "type": "quantitative"}, "text": {"field": "set"}}},
{"data": {"name": "venn_counts"}, "transform": [{"filter": "datum.venn == 'up' && datum.region == 'IDH1wt only'"}],
 "mark": {"type": "text", "fontSize": 21, "align": "center", "baseline": "middle"},
 "encoding": {"x": {"field": "cx", "type": "quantitative"}, "y": {"datum": -0.06, "type": "quantitative"}, "text": {"field": "count", "type": "quantitative", "format": "d"}}},
{"data": {"name": "venn_counts"}, "transform": [{"filter": "datum.venn == 'up' && datum.region != 'IDH1wt only'"}],
 "mark": {"type": "text", "fontSize": 27, "fontWeight": "bold", "align": "center", "baseline": "middle"},
 "encoding": {"x": {"field": "cx", "type": "quantitative"}, "y": {"datum": -0.06, "type": "quantitative"}, "text": {"field": "count", "type": "quantitative", "format": "d"}}},
{"data": {"values": [{}]}, "mark": {"type": "text", "text": "Up-regulated genes in hypoxia", "fontSize": 21, "fontWeight": "bold", "align": "center", "baseline": "alphabetic"},
 "encoding": {"x": {"datum": 0.578, "type": "quantitative"}, "y": {"datum": 1.578, "type": "quantitative"}}},
{"data": {"values": [{}]}, "mark": {"type": "text", "text": "E", "fontSize": 33, "fontWeight": "bold", "align": "center", "baseline": "alphabetic"},
 "encoding": {"x": {"datum": -2.265, "type": "quantitative"}, "y": {"datum": 1.711, "type": "quantitative"}}}
]
},
{
"width": 435, "height": 193,
"layer": [
{"data": {"name": "venn_sets"}, "transform": [{"filter": "datum.venn == 'down'"}],
 "mark": {"type": "point", "shape": "circle", "filled": true, "size": 21640, "opacity": 1, "fillOpacity": 0.45, "strokeWidth": 1.5, "strokeOpacity": 1},
 "encoding": {
  "x": {"field": "cx", "type": "quantitative", "scale": {"domain": [-1.639, 3.602], "nice": false, "zero": false}, "axis": null},
  "y": {"datum": 0, "type": "quantitative", "scale": {"domain": [-0.988, 1.337], "nice": false, "zero": false}, "axis": null},
  "fill": {"field": "set", "type": "nominal", "scale": {"domain": ["IDH1ʷᵗ", "IDH1ᵐᵘᵗ"], "range": ["#eb473e", "#4fa4eb"]}, "legend": null},
  "stroke": {"field": "set", "type": "nominal", "scale": {"domain": ["IDH1ʷᵗ", "IDH1ᵐᵘᵗ"], "range": ["#b52424", "#1e5b9a"]}, "legend": null}
 }},
{"data": {"name": "venn_sets"}, "transform": [{"filter": "datum.venn == 'down'"}],
 "mark": {"type": "text", "fontSize": 20, "fontWeight": "bold", "align": "center", "baseline": "alphabetic"},
 "encoding": {"x": {"field": "cx", "type": "quantitative"}, "y": {"datum": 1.181, "type": "quantitative"}, "text": {"field": "set"}}},
{"data": {"name": "venn_counts"}, "transform": [{"filter": "datum.venn == 'down'"}],
 "mark": {"type": "text", "fontSize": 21, "align": "center", "baseline": "middle"},
 "encoding": {"x": {"field": "cx", "type": "quantitative"}, "y": {"datum": -0.06, "type": "quantitative"}, "text": {"field": "count", "type": "quantitative", "format": "d"}}},
{"data": {"values": [{}]}, "mark": {"type": "text", "text": "Down-regulated genes in hypoxia", "fontSize": 21, "fontWeight": "bold", "align": "center", "baseline": "alphabetic"},
 "encoding": {"x": {"datum": 0.602, "type": "quantitative"}, "y": {"datum": 1.578, "type": "quantitative"}}}
]
}
]
}
